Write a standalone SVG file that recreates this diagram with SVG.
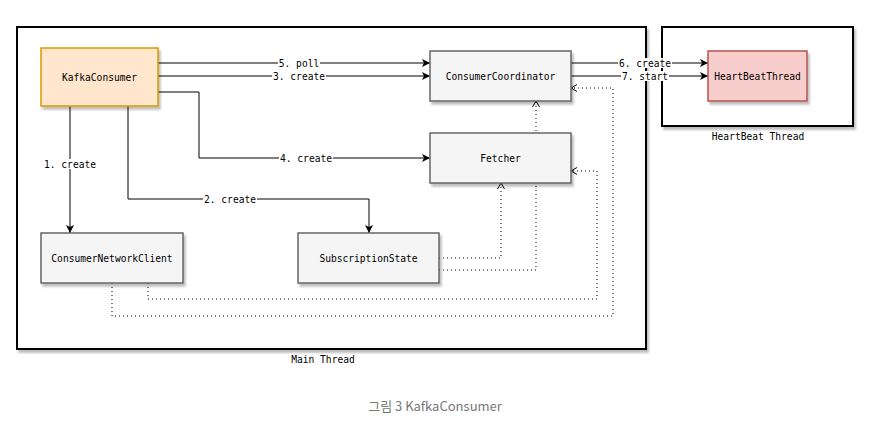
<svg xmlns="http://www.w3.org/2000/svg" width="870" height="432" viewBox="0 0 870 432">
<style>
text{font-family:"DejaVu Sans Mono","Liberation Mono",monospace;font-size:9.6px;fill:#000;text-anchor:middle;dominant-baseline:central}
.bg{fill:#fff;stroke:none}
.grey{fill:#f5f5f5;stroke:#666;stroke-width:1.5}
.cont{fill:#fff;stroke:#000;stroke-width:2}
.e{fill:none;stroke:#000;stroke-width:1}
.d{fill:none;stroke:#000;stroke-width:1;stroke-dasharray:1 3}
.cap{font-family:"Noto Sans CJK KR","Noto Sans",sans-serif;font-size:13px;fill:#777}
</style>
<defs>
<filter id="sh" x="-10%" y="-10%" width="130%" height="130%">
<feDropShadow dx="2" dy="3" stdDeviation="1" flood-color="#000" flood-opacity="0.25"/>
</filter>
<marker id="a" markerUnits="userSpaceOnUse" markerWidth="10" markerHeight="10" refX="8" refY="4" orient="auto">
<path d="M0,0 L8,4 L0,8 L2,4 z" fill="#000"/>
</marker>
<marker id="o" markerUnits="userSpaceOnUse" markerWidth="10" markerHeight="10" refX="7" refY="4" orient="auto">
<path d="M1,0.5 L7,4 L1,7.5" fill="none" stroke="#000" stroke-width="1"/>
</marker>
</defs>
<rect width="870" height="432" fill="#fff"/>
<g id="main-thread">
<rect class="cont" x="17" y="27" width="629" height="322" filter="url(#sh)"/>
<text x="323" y="359">Main Thread</text>
</g>
<g id="heartbeat-thread">
<rect class="cont" x="662" y="27" width="191" height="99" filter="url(#sh)"/>
<text x="758" y="136">HeartBeat Thread</text>
</g>
<g id="connectors">
<path class="e" d="M158,63 H430" marker-end="url(#a)"/>
<path class="e" d="M158,76 H430" marker-end="url(#a)"/>
<path class="e" d="M158,92 H199 V158 H430" marker-end="url(#a)"/>
<path class="e" d="M70,106 V233" marker-end="url(#a)"/>
<path class="e" d="M128,106 V199 H369 V233" marker-end="url(#a)"/>
<path class="e" d="M571,63 H708" marker-end="url(#a)"/>
<path class="e" d="M571,76 H708" marker-end="url(#a)"/>
<path class="d" d="M439,258 H501 V183" marker-end="url(#o)"/>
<path class="d" d="M439,270 H536 V101" marker-end="url(#o)"/>
<path class="d" d="M148,283 V299 H597 V171 H571" marker-end="url(#o)"/>
<path class="d" d="M112,283 V316 H613 V88 H571" marker-end="url(#o)"/>
<rect class="bg" x="278" y="58" width="42" height="10"/>
<rect class="bg" x="272" y="71" width="54" height="10"/>
<rect class="bg" x="279" y="153" width="54" height="10"/>
<rect class="bg" x="43" y="159" width="54" height="10"/>
<rect class="bg" x="203" y="194" width="54" height="10"/>
<rect class="bg" x="618" y="58" width="54" height="10"/>
<rect class="bg" x="621" y="71" width="48" height="10"/>
<text x="299" y="63">5. poll</text>
<text x="299" y="76">3. create</text>
<text x="306" y="158">4. create</text>
<text x="70" y="164">1. create</text>
<text x="230" y="199">2. create</text>
<text x="645" y="63">6. create</text>
<text x="645" y="76">7. start</text>
</g>
<g id="KafkaConsumer">
<rect x="41" y="48" width="117" height="58" fill="#ffe6cc" stroke="#d79b00" stroke-width="1.5" filter="url(#sh)"/>
<text x="99.5" y="77">KafkaConsumer</text>
</g>
<g id="ConsumerCoordinator">
<rect class="grey" x="430" y="51" width="141" height="50" filter="url(#sh)"/>
<text x="500.5" y="76">ConsumerCoordinator</text>
</g>
<g id="Fetcher">
<rect class="grey" x="430" y="133" width="141" height="50" filter="url(#sh)"/>
<text x="500.5" y="158">Fetcher</text>
</g>
<g id="ConsumerNetworkClient">
<rect class="grey" x="41" y="233" width="142" height="50" filter="url(#sh)"/>
<text x="112" y="258">ConsumerNetworkClient</text>
</g>
<g id="SubscriptionState">
<rect class="grey" x="298" y="233" width="141" height="50" filter="url(#sh)"/>
<text x="368.5" y="258">SubscriptionState</text>
</g>
<g id="HeartBeatThread">
<rect x="708" y="51" width="99" height="50" fill="#f8cecc" stroke="#b85450" stroke-width="1.5" filter="url(#sh)"/>
<text x="757.5" y="76">HeartBeatThread</text>
</g>
<text class="cap" x="435" y="405">그림 3 KafkaConsumer</text>
</svg>
